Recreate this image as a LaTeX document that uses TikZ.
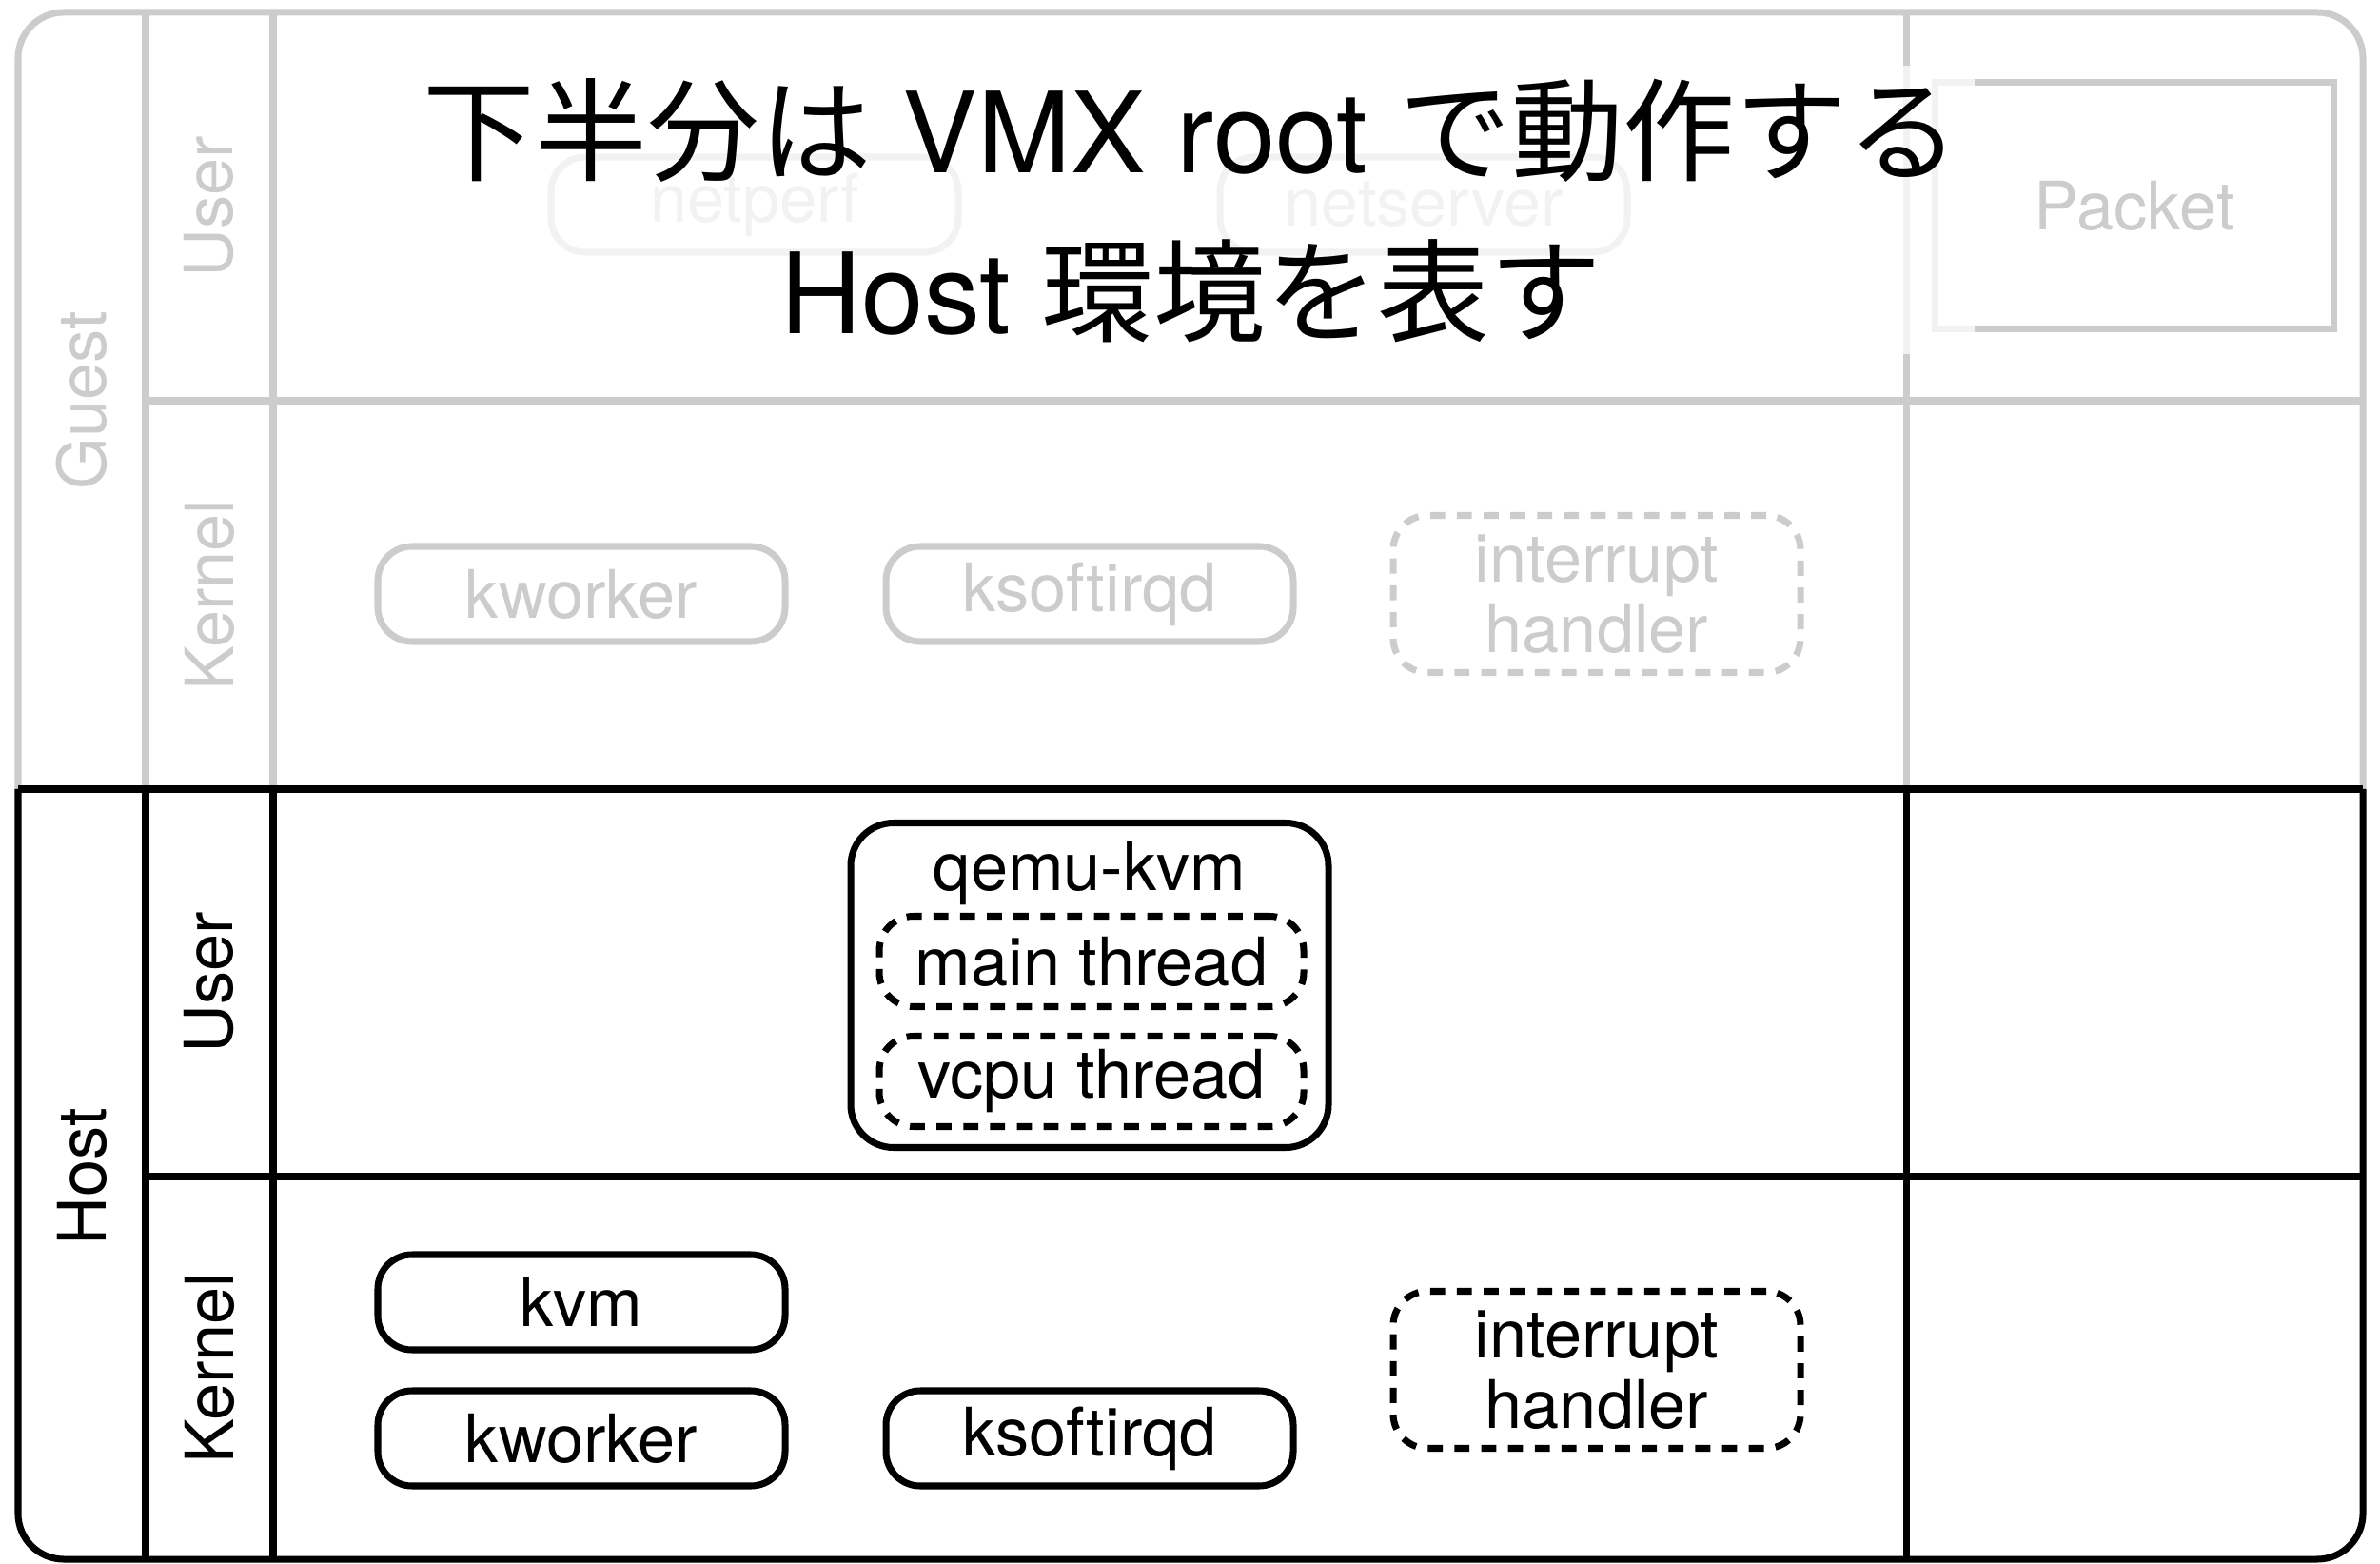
\documentclass[tikz,border=0pt]{standalone}
\usepackage{fontspec}
\setmainfont{TeX Gyre Heros}
\newfontfamily\jpfont{Noto Sans CJK JP}
\usetikzlibrary{shapes.geometric, arrows}
\definecolor{lightline}{HTML}{CCCCCC}

\begin{document}
\begin{tikzpicture}[line width=2pt, font=\fontsize{20}{21}\selectfont]
\tikzstyle{proc} = [rectangle, rounded corners=0.36cm, draw, minimum width=4.28cm, minimum height=1.0cm, inner sep=0pt, align=center]
\tikzstyle{irq} = [proc, dash pattern=on 4.5pt off 3.5pt, minimum height=1.65cm]
\tikzstyle{thread} = [proc, dash pattern=on 4.5pt off 3.5pt, minimum width=4.46cm, minimum height=0.95cm]
\tikzstyle{guest} = [lightline, text=lightline]
\tikzstyle{layer} = [rotate=90, inner sep=0pt]

\useasboundingbox (0,0) rectangle (25.01,16.42);

% guest side (grey)
\draw [guest, rounded corners=0.48cm] (0.19,8.13) -- (0.19,16.29) -- (24.83,16.29) -- (24.83,8.13);
\draw [guest] (1.53,8.13) -- (1.53,16.29);
\draw [guest] (2.87,8.13) -- (2.87,16.29);
\draw [guest] (20.03,8.13) -- (20.03,16.29);
\draw [guest] (1.53,12.21) -- (24.83,12.21);

\node (guestlbl) [guest, layer] at (0.86,12.21) {Guest};
\node (guser) [guest, layer] at (2.20,14.25) {User};
\node (gkernel) [guest, layer] at (2.20,10.17) {Kernel};

\node (netperf) [proc, guest] at (7.93,14.27) {netperf};
\node (netserver) [proc, guest] at (14.96,14.27) {netserver};
\node (packet) [guest, rectangle, draw, minimum width=4.19cm, minimum height=2.59cm] at (22.43,14.26) {Packet};

\node (gkworker) [proc, guest] at (6.11,10.18) {kworker};
\node (gksoftirqd) [proc, guest] at (11.45,10.18) {ksoftirqd};
\node (girq) [irq, guest] at (16.78,10.18) {interrupt\\handler};

% title over the guest part
\node (title) [fill=white, fill opacity=0.75, text opacity=1, minimum width=16.46cm, minimum height=3.03cm, align=center, font=\fontsize{33.5}{48}\selectfont] at (12.52,14.21) {{\jpfont 下半分は} VMX root {\jpfont で動作する}\\Host {\jpfont 環境を表す}};

% host side (black)
\draw [rounded corners=0.48cm] (0.19,8.13) -- (0.19,0.04) -- (24.83,0.04) -- (24.83,8.13);
\draw (0.19,8.13) -- (24.83,8.13);
\draw (1.53,8.13) -- (1.53,0.04);
\draw (2.87,8.13) -- (2.87,0.04);
\draw (20.03,8.13) -- (20.03,0.04);
\draw (1.53,4.06) -- (24.83,4.06);

\node (hostlbl) [layer] at (0.86,4.06) {Host};
\node (huser) [layer] at (2.20,6.10) {User};
\node (hkernel) [layer] at (2.20,2.05) {Kernel};

\node (qemu) [proc, rounded corners=0.45cm, minimum width=5.02cm, minimum height=3.41cm] at (11.45,6.07) {};
\node (qemulbl) at (11.45,7.24) {qemu-kvm};
\node (mainth) [thread] at (11.47,6.32) {main thread};
\node (vcputh) [thread, below of=mainth, node distance=1.26cm] {vcpu thread};

\node (kvm) [proc] at (6.11,2.74) {kvm};
\node (hkworker) [proc, below of=kvm, node distance=1.43cm] {kworker};
\node (hksoftirqd) [proc] at (11.45,1.31) {ksoftirqd};
\node (hirq) [irq] at (16.78,2.03) {interrupt\\handler};
\end{tikzpicture}
\end{document}
